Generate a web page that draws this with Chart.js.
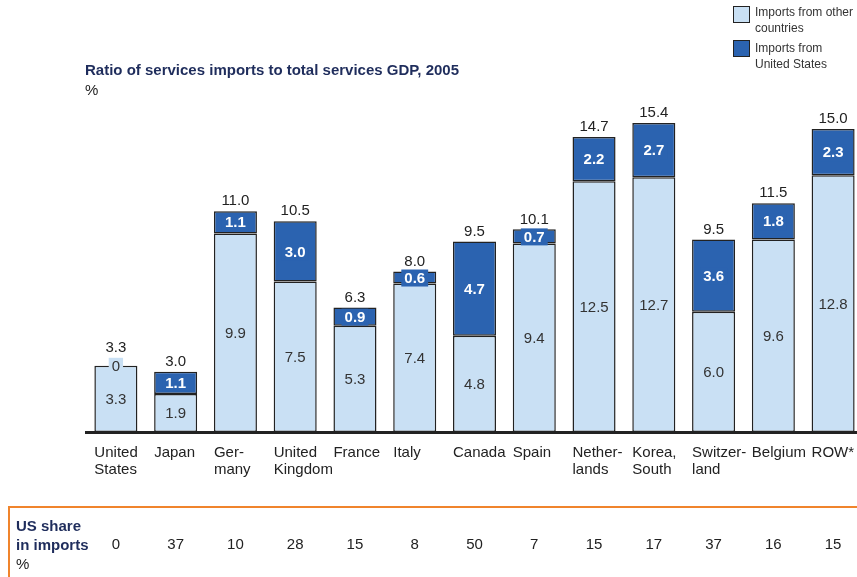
<!DOCTYPE html>
<html>
<head>
<meta charset="utf-8">
<script src="https://cdn.jsdelivr.net/npm/chart.js@4.4.0/dist/chart.umd.min.js"></script>
<style>
  html, body { margin: 0; padding: 0; background: #fff; overflow: hidden; width: 857px; height: 577px; }
  body { position: relative; font-family: "Liberation Sans", Arial, sans-serif; color: #222; }
  #chart { position: absolute; left: 0; top: 0; }
  .t { position: absolute; white-space: nowrap; line-height: 16px; }
  .title { left: 85px; top: 62px; font-size: 15px; font-weight: bold; color: #1f2d5c; }
  .unit { left: 85px; top: 82px; font-size: 15px; }
  .leg-box { position: absolute; width: 15px; height: 15px; border: 1px solid #222; }
  .leg { font-size: 12px; line-height: 16px; color: #333; }
  .orange-h { position: absolute; left: 8px; top: 506px; width: 860px; height: 2px; background: #f0842c; }
  .orange-v { position: absolute; left: 8px; top: 506px; width: 2px; height: 80px; background: #f0842c; }
  .share { left: 16px; top: 516px; font-size: 15px; font-weight: bold; color: #1f2d5c; line-height: 19px; }
  .share span { font-weight: normal; color: #222; }
</style>
</head>
<body>
<canvas id="chart" width="870" height="577"></canvas>

<div class="t title">Ratio of services imports to total services GDP, 2005</div>
<div class="t unit">%</div>

<div class="leg-box" style="left:733px; top:6px; background:#c9e0f4;"></div>
<div class="t leg" style="left:755px; top:4px;">Imports from other<br>countries</div>
<div class="leg-box" style="left:733px; top:40px; background:#2b63b0;"></div>
<div class="t leg" style="left:755px; top:40px;">Imports from<br>United States</div>

<div class="orange-h"></div>
<div class="orange-v"></div>
<div class="t share">US share<br>in imports<br><span>%</span></div>

<script>
// category names (multi-line)
const categories = [
  ["United", "States"], ["Japan"], ["Ger-", "many"], ["United", "Kingdom"],
  ["France"], ["Italy"], ["Canada"], ["Spain"], ["Nether-", "lands"],
  ["Korea,", "South"], ["Switzer-", "land"], ["Belgium"], ["ROW*"]
];
// imports from other countries, % of services GDP
const otherImports = [3.3, 1.9, 9.9, 7.5, 5.3, 7.4, 4.8, 9.4, 12.5, 12.7, 6.0, 9.6, 12.8];
// imports from United States
const usImports = [0, 1.1, 1.1, 3.0, 0.9, 0.6, 4.7, 0.7, 2.2, 2.7, 3.6, 1.8, 2.3];
// printed totals
const totals = [3.3, 3.0, 11.0, 10.5, 6.3, 8.0, 9.5, 10.1, 14.7, 15.4, 9.5, 11.5, 15.0];
// US share in imports, %
const usShare = [0, 37, 10, 28, 15, 8, 50, 7, 15, 17, 37, 16, 15];

const LIGHT = "#c9e0f4";
const DARK = "#2b63b0";
const FONT = '"Liberation Sans", Arial, sans-serif';

// value labels, category names and the bottom US-share row
const labelPlugin = {
  id: "labels",
  afterDatasetsDraw(chart) {
    const ctx = chart.ctx;
    const lo = chart.getDatasetMeta(0).data;
    const hi = chart.getDatasetMeta(1).data;
    ctx.save();
    ctx.textAlign = "center";
    ctx.textBaseline = "middle";
    lo.forEach((bar, i) => {
      ctx.font = "15px " + FONT;
      ctx.fillStyle = "#333";
      ctx.fillText(otherImports[i].toFixed(1), bar.x, (bar.y + bar.base) / 2 + 1);

      const top = hi[i];
      const v = usImports[i];
      const txt = v === 0 ? "0" : v.toFixed(1);
      const cy = v === 0 ? top.y : (top.y + top.base) / 2;
      ctx.font = (v === 0 ? "" : "bold ") + "15px " + FONT;
      const w = ctx.measureText(txt).width + 6;
      ctx.fillStyle = v === 0 ? LIGHT : DARK;
      ctx.fillRect(top.x - w / 2, cy - 8, w, 17);
      ctx.fillStyle = v === 0 ? "#333" : "#fff";
      ctx.fillText(txt, top.x, cy + 1);

      // total above the bar (pushed up when the "0" box sits on the top edge)
      ctx.font = "15px " + FONT;
      ctx.fillStyle = "#222";
      const gap = v === 0 ? 18 : 10;
      ctx.fillText(totals[i].toFixed(1), top.x, Math.min(top.y, bar.y) - gap);
    });
    ctx.restore();
  },
  afterDraw(chart) {
    const ctx = chart.ctx;
    const x = chart.scales.x;
    const lo = chart.getDatasetMeta(0).data;
    ctx.save();
    ctx.font = "15px " + FONT;
    ctx.fillStyle = "#222";
    ctx.textBaseline = "middle";
    categories.forEach((lines, i) => {
      const left = lo[i].x - lo[i].width / 2;
      ctx.textAlign = "left";
      lines.forEach((l, k) => ctx.fillText(l, left, 453 + k * 17));
      ctx.textAlign = "center";
      ctx.fillText(String(usShare[i]), x.getPixelForValue(i), 545);
    });
    ctx.restore();
  }
};

new Chart(document.getElementById("chart").getContext("2d"), {
  type: "bar",
  data: {
    labels: categories,
    datasets: [
      {
        label: "Imports from other countries",
        data: otherImports,
        backgroundColor: LIGHT,
        borderColor: "#222",
        borderWidth: 1.5,
        borderSkipped: false
      },
      {
        label: "Imports from United States",
        data: usImports,
        backgroundColor: DARK,
        borderColor: "#222",
        borderWidth: 1.5,
        borderSkipped: false
      }
    ]
  },
  options: {
    responsive: false,
    animation: false,
    devicePixelRatio: 1,
    layout: { padding: { left: 86, right: 7, top: 111, bottom: 137 } },
    datasets: { bar: { barPercentage: 0.72, categoryPercentage: 1 } },
    plugins: { legend: { display: false }, tooltip: { enabled: false }, title: { display: false } },
    scales: {
      x: {
        stacked: true,
        grid: { display: false },
        border: { display: true, color: "#222", width: 3 },
        ticks: { display: false }
      },
      y: {
        stacked: true,
        display: false,
        min: 0,
        max: 16
      }
    }
  },
  plugins: [labelPlugin]
});
</script>
</body>
</html>
